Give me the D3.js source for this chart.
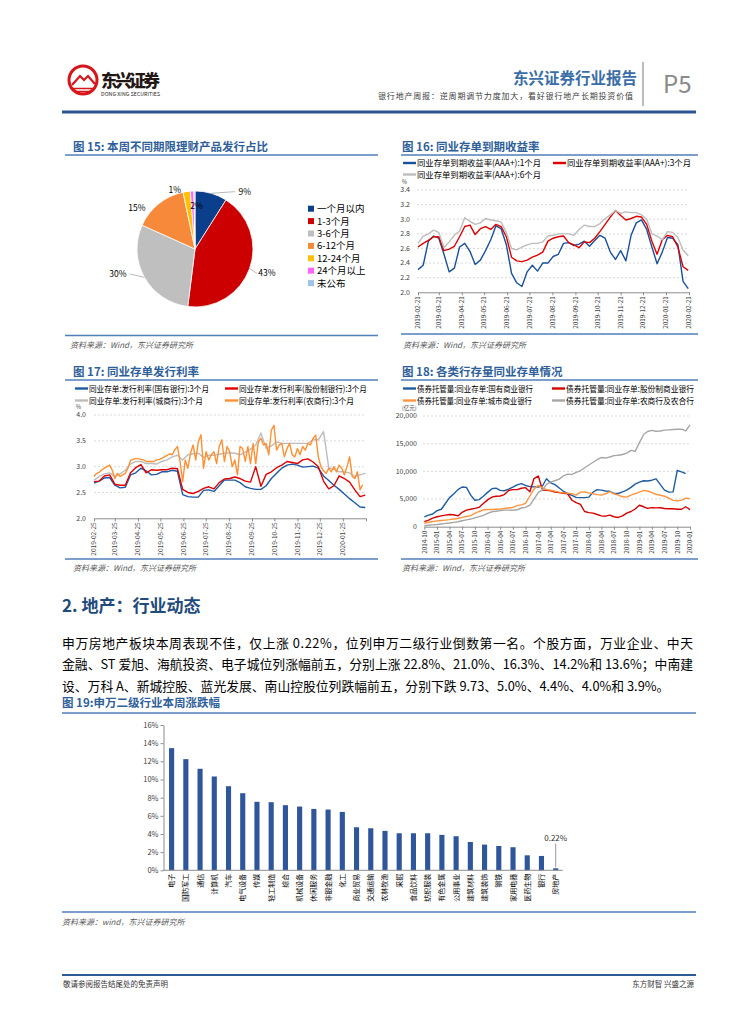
<!DOCTYPE html>
<html>
<head>
<meta charset="utf-8">
<script src="https://cdn.jsdelivr.net/npm/d3@7"></script>
<style>
  body { margin: 0; background: #fff; }
  svg text { font-family: 'Noto Sans CJK SC', 'Noto Sans', sans-serif; }
</style>
</head>
<body>
<svg id="page" width="755" height="1024"></svg>
<script>
// ---- fig 15: pie ----
var pieCats   = ["一个月以内", "1-3个月", "3-6个月", "6-12个月", "12-24个月", "24个月以上", "未公布"];
var pieVals   = [9.0, 43.1, 29.8, 15.0, 2.0, 1.0, 0.3];
var pieLabels = ["9%", "43%", "30%", "15%", "2%", "1%", ""];

// ---- fig 16: weekly from 2019-02-21 ----
var ncdNames = ["同业存单到期收益率(AAA+):1个月", "同业存单到期收益率(AAA+):3个月", "同业存单到期收益率(AAA+):6个月"];
var ncd1m = [2.31,2.37,2.70,2.77,2.74,2.52,2.28,2.33,2.62,2.67,
             2.56,2.38,2.44,2.57,2.72,2.91,2.87,2.65,2.26,2.13,
             2.08,2.28,2.37,2.29,2.40,2.40,2.49,2.52,2.67,2.68,
             2.64,2.66,2.70,2.63,2.71,2.78,2.74,2.55,2.45,2.57,
             2.43,2.78,2.95,2.99,2.86,2.62,2.39,2.55,2.75,2.74,
             2.65,2.15,2.05];
var ncd3m = [2.62,2.67,2.71,2.76,2.76,2.57,2.59,2.63,2.76,2.90,
             2.92,2.79,2.87,2.90,2.86,2.93,2.90,2.76,2.48,2.43,
             2.42,2.44,2.48,2.51,2.55,2.70,2.74,2.76,2.77,2.68,
             2.65,2.61,2.69,2.68,2.74,2.83,2.93,3.03,3.12,3.05,
             2.99,3.01,3.04,3.03,2.93,2.70,2.52,2.72,2.78,2.76,
             2.62,2.35,2.30];
var ncd6m = [2.67,2.77,2.80,2.85,2.82,2.61,2.69,2.78,2.84,3.02,
             2.97,2.93,2.95,3.01,2.99,2.98,2.96,2.82,2.60,2.58,
             2.62,2.65,2.67,2.67,2.69,2.77,2.78,2.80,2.80,2.80,
             2.78,2.86,2.92,2.90,2.90,2.94,3.01,3.06,3.12,3.08,
             3.10,3.09,3.09,3.06,3.00,2.80,2.77,2.72,2.83,2.82,
             2.75,2.58,2.50];

// ---- fig 17: weekly from 2019-02-25 (农商行 every half week) ----
var issueNames = ["同业存单:发行利率(国有银行):3个月", "同业存单:发行利率(股份制银行):3个月",
                  "同业存单:发行利率(城商行):3个月", "同业存单:发行利率(农商行):3个月"];
var issueBig = [2.68,2.72,2.78,2.79,2.64,2.59,2.60,2.84,2.88,2.97,
                2.92,2.84,2.85,2.90,2.90,2.93,2.91,2.46,2.42,2.41,
                2.41,2.54,2.55,2.52,2.63,2.74,2.74,2.74,2.69,2.61,
                2.58,2.56,2.56,2.63,2.77,2.87,2.97,3.03,3.05,3.03,
                2.99,3.00,3.01,2.97,2.82,2.73,2.64,2.56,2.47,2.38,
                2.30,2.22,2.21];
var issueJoint = [2.71,2.72,2.82,2.84,2.66,2.64,2.64,2.88,2.98,3.04,
                  2.88,2.94,2.93,2.94,2.94,2.97,2.96,2.56,2.50,2.48,
                  2.52,2.58,2.61,2.57,2.69,2.76,2.77,2.80,2.77,2.72,
                  2.70,3.00,2.62,2.85,2.90,2.98,3.03,3.10,3.08,3.06,
                  3.13,3.15,3.09,3.00,2.72,2.57,2.63,2.82,2.77,2.70,
                  2.55,2.42,2.45];
var issueCity = [2.74,2.81,2.86,2.88,2.81,2.86,2.93,3.05,3.10,3.10,
                 3.06,3.06,3.05,3.10,3.13,3.19,3.22,3.13,3.23,3.25,
                 3.26,3.18,3.22,3.22,3.24,3.26,3.27,3.26,3.23,3.28,
                 3.34,3.42,3.65,3.35,3.40,3.48,3.45,3.45,3.45,3.45,
                 3.45,3.45,3.52,3.52,3.68,2.98,2.95,2.90,2.90,2.88,
                 2.81,2.84,2.87];
var issueRural = [2.81,2.87,2.89,2.94,2.97,3.00,3.03,2.93,2.77,2.87,
                  2.81,2.84,2.87,2.97,3.12,3.14,3.16,3.15,3.14,3.13,
                  3.10,3.10,3.10,3.10,3.13,3.14,3.16,3.19,3.22,3.25,
                  3.23,3.33,3.39,3.10,2.71,3.13,2.97,3.26,3.42,3.13,
                  3.48,3.62,2.97,3.29,3.13,3.23,3.29,3.06,3.39,3.52,
                  3.10,3.39,3.29,3.00,3.13,2.84,3.39,3.35,3.10,3.39,
                  3.06,3.45,3.06,3.48,3.55,3.42,3.45,3.23,3.71,3.80,
                  3.32,3.42,3.45,3.19,3.35,3.45,3.23,3.19,3.35,3.23,
                  3.39,3.32,3.45,3.42,3.55,3.61,3.19,3.00,2.92,2.87,
                  2.97,2.90,3.00,2.90,3.03,2.97,2.84,3.00,3.19,2.81,
                  2.77,2.90,2.55,2.65];

// ---- fig 18: monthly from 2014-10, 亿元 ----
var holdNames = ["债券托管量:同业存单:国有商业银行", "债券托管量:同业存单:股份制商业银行",
                 "债券托管量:同业存单:城市商业银行", "债券托管量:同业存单:农商行及农合行"];
var holdBig = [1790,2090,2300,2900,3150,4150,5250,5900,6700,7170,
               7100,5700,4780,4900,5500,6200,6870,6950,6570,6500,
               6800,7150,7550,7770,7450,7250,7200,7170,7400,8660,
               7900,7600,7000,6400,6000,5650,5300,5260,5260,5350,
               6270,6700,6600,6450,6400,6000,6000,6300,6600,7100,
               7700,8050,8300,8250,8400,8650,7600,6600,6250,6300,
               10150,9900,9600];
var holdJoint = [900,1200,1550,1800,1950,2090,2200,2150,1950,2600,
                 2990,3150,3300,3500,4180,4850,5350,5500,5550,5800,
                 6550,6690,6700,6950,7050,6300,8700,9150,6600,6570,
                 6500,6270,6150,6050,5950,4780,4350,4050,2750,2550,
                 2450,2200,1950,1900,2100,1800,1670,1950,2450,2750,
                 3200,3880,3600,3300,3450,3400,3420,3300,3250,3250,
                 3150,3150,3600,3100];
var holdCity = [600,800,950,1050,1130,1190,1270,1380,1490,1680,
                1850,2000,2400,2750,3050,3100,3100,3150,3200,3290,
                3380,3480,3800,3950,4200,5550,6800,7470,7000,6700,
                6580,6400,6250,6120,6050,5970,5700,6250,6270,6100,
                5950,5800,5700,5950,6330,5950,5700,5400,5350,5700,
                5970,6250,6550,6450,6150,5860,5680,5500,5150,4750,
                4660,4800,5150,5080];
var holdRural = [180,250,330,400,500,600,680,780,900,1080,
                 1240,1380,1600,1820,2050,2400,2700,2800,2900,2990,
                 3000,2980,3050,3380,3500,3880,5000,6200,6650,7650,
                 8100,8300,8600,9200,9500,9450,9800,10100,10650,11150,
                 11650,12100,12500,12400,12600,12840,12900,13050,13300,13800,
                 13600,15200,16700,17200,17400,17250,17300,17450,17500,17560,
                 17600,17620,17300,18400];

// ---- fig 19: 申万行业本周涨跌幅 (%) ----
var industries = ["电子","国防军工","通信","计算机","汽车","电气设备","传媒","轻工制造","综合","机械设备",
                  "休闲服务","非银金融","化工","商业贸易","交通运输","农林牧渔","采掘","食品饮料","纺织服装","有色金属",
                  "公用事业","建筑材料","建筑装饰","钢铁","家用电器","医药生物","银行","房地产"];
var weekChange = [13.45,12.24,11.18,10.33,9.26,8.49,7.54,7.50,7.17,7.02,
                  6.76,6.69,6.43,4.74,4.63,4.34,4.08,4.08,4.08,3.90,
                  3.75,3.12,2.83,2.68,2.54,1.65,1.58,0.22];

var bodyLines = [
  "申万房地产板块本周表现不佳，仅上涨 0.22%，位列申万二级行业倒数第一名。个股方面，万业企业、中天",
  "金融、ST 爱旭、海航投资、电子城位列涨幅前五，分别上涨 22.8%、21.0%、16.3%、14.2%和 13.6%；中南建",
  "设、万科 A、新城控股、蓝光发展、南山控股位列跌幅前五，分别下跌 9.73、5.0%、4.4%、4.0%和 3.9%。"
];

var LAT = "'Liberation Sans', Arial, sans-serif";
var TITLE_BLUE = "#2f5f9a", RULE_BLUE = "#4f7fb8", AXIS = "#8c8c8c", TICK_TXT = "#404040";
var svg = d3.select("#page");
var parse = d3.timeParse("%Y-%m-%d");

// ---------- page header / footer ----------
var head = svg.append("g");
head.append("circle").attr("cx", 83).attr("cy", 80).attr("r", 14)
    .attr("fill", "none").attr("stroke", "#d7151b").attr("stroke-width", 3);
head.append("path").attr("d", "M72,85 L80,76 L84,80 L88,76 L95,84")
    .attr("fill", "none").attr("stroke", "#d7151b").attr("stroke-width", 2.2);
head.append("path").attr("d", "M73,88.5 L93,88.5 M76,91.5 L90,91.5")
    .attr("stroke", "#d7151b").attr("stroke-width", 1.3);
head.append("text").attr("x", 101).attr("y", 87).attr("font-size", 16.5).attr("font-weight", 900)
    .attr("fill", "#231815").attr("textLength", 59).text("东兴证券");
head.append("text").attr("x", 101).attr("y", 96).attr("font-size", 5.2).attr("font-family", LAT)
    .attr("fill", "#231815").attr("textLength", 59).text("DONG XING SECURITIES");
head.append("text").attr("x", 637).attr("y", 84).attr("text-anchor", "end").attr("font-size", 15.5)
    .attr("font-weight", 700).attr("fill", "#3b6ea8").text("东兴证券行业报告");
head.append("text").attr("x", 378).attr("y", 99).attr("font-size", 8).attr("fill", "#404040")
    .attr("textLength", 255).text("银行地产周报：逆周期调节力度加大，看好银行地产长期投资价值");
head.append("line").attr("x1", 643).attr("x2", 643).attr("y1", 62).attr("y2", 106)
    .attr("stroke", "#a6a6a6").attr("stroke-width", 1.5);
head.append("text").attr("x", 663).attr("y", 93).attr("font-size", 24).attr("font-family", LAT)
    .attr("fill", "#8a8a8a").text("P5");
head.append("line").attr("x1", 62).attr("x2", 696).attr("y1", 112).attr("y2", 112)
    .attr("stroke", "#2a5592").attr("stroke-width", 3);

svg.append("line").attr("x1", 62).attr("x2", 696).attr("y1", 975).attr("y2", 975)
    .attr("stroke", "#2d5b94").attr("stroke-width", 2);
svg.append("text").attr("x", 63).attr("y", 987).attr("font-size", 7.5).attr("fill", "#333")
    .text("敬请参阅报告结尾处的免责声明");
svg.append("text").attr("x", 694).attr("y", 987).attr("font-size", 7.5).attr("fill", "#333")
    .attr("text-anchor", "end").text("东方财智 兴盛之源");

// ---------- helpers ----------
function figTitle(x, y, s, lx1, lx2, ly) {
    svg.append("text").attr("x", x).attr("y", y).attr("font-size", 11.5).attr("font-weight", 700)
        .attr("fill", TITLE_BLUE).text(s);
    svg.append("line").attr("x1", lx1).attr("x2", lx2).attr("y1", ly).attr("y2", ly)
        .attr("stroke", RULE_BLUE).attr("stroke-width", 1.5);
}
function figSource(x, y, s, lx1, lx2, ly) {
    svg.append("line").attr("x1", lx1).attr("x2", lx2).attr("y1", ly).attr("y2", ly)
        .attr("stroke", RULE_BLUE).attr("stroke-width", 1.5);
    svg.append("text").attr("x", x).attr("y", y).attr("font-size", 8).attr("font-style", "italic")
        .attr("fill", "#595959").text(s);
}

function lineChart(c) {
    var g = svg.append("g");
    var x = d3.scaleTime().domain(c.xDomain).range([c.left, c.right]);
    var y = d3.scaleLinear().domain(c.yDomain).range([c.bottom, c.top]);

    g.selectAll("line.grid").data(c.yTicks.slice(1)).join("line").attr("class", "grid")
        .attr("x1", c.gridLeft).attr("x2", c.gridRight)
        .attr("y1", function (d) { return y(d); }).attr("y2", function (d) { return y(d); })
        .attr("stroke", "#d0d0d0").attr("stroke-width", 0.8).attr("stroke-dasharray", "2,2");

    g.selectAll("text.yl").data(c.yTicks).join("text").attr("class", "yl")
        .attr("x", c.yLabelX).attr("y", function (d) { return y(d) + 2.4; })
        .attr("text-anchor", "end").attr("font-size", 7).attr("font-family", LAT)
        .attr("fill", TICK_TXT).text(c.yFormat);
    g.append("text").attr("x", c.unitX).attr("y", c.unitY).attr("font-size", 5.5)
        .attr("fill", TICK_TXT).text(c.unit);

    var ax = g.append("g").attr("transform", "translate(0," + c.bottom + ")")
        .call(d3.axisBottom(x).tickValues(c.xTicks).tickSize(3).tickSizeOuter(0).tickFormat(""));
    ax.select(".domain").attr("stroke", AXIS);
    ax.selectAll(".tick line").attr("stroke", AXIS);

    g.selectAll("text.xl").data(c.xLabels).join("text").attr("class", "xl")
        .attr("transform", function (d) { return "translate(" + (x(d) + 2.3) + "," + (c.bottom + 4) + ") rotate(-90)"; })
        .attr("text-anchor", "end").attr("font-size", c.xFontSize).attr("font-family", LAT)
        .attr("fill", TICK_TXT).text(c.xFormat);

    c.series.forEach(function (s) {
        var line = d3.line()
            .x(function (d, i) { return x(s.dates[i]); })
            .y(function (d) { return y(d); });
        g.append("path").datum(s.values).attr("d", line).attr("fill", "none")
            .attr("stroke", s.color).attr("stroke-width", 1.4).attr("stroke-linejoin", "round");
    });

    // legend
    c.series.forEach(function (s, i) {
        var lx = c.legendX[i % 2], ly = c.legendY[Math.floor(i / 2)];
        if (c.legendRowOf) { lx = c.legendX[c.legendRowOf[i][0]]; ly = c.legendY[c.legendRowOf[i][1]]; }
        g.append("line").attr("x1", lx).attr("x2", lx + 13).attr("y1", ly).attr("y2", ly)
            .attr("stroke", s.color).attr("stroke-width", 2.4);
        g.append("text").attr("x", lx + 14).attr("y", ly + 3).attr("font-size", 8.5).attr("fill", "#000")
            .attr("textLength", s.legendLen).attr("lengthAdjust", "spacingAndGlyphs").text(s.name);
    });
}

function stepDates(start, n, hours) {
    return d3.range(n).map(function (i) { return d3.timeHour.offset(start, i * hours); });
}

// ---------- fig 15 ----------
figTitle(73, 151, "图 15: 本周不同期限理财产品发行占比", 65, 378, 155);
var pieColors = ["#0b3f8c", "#cc0000", "#bfbfbf", "#f7893b", "#ffc000", "#ff66ff", "#9dc3e6"];
var pcx = 195, pcy = 249, pr = 58;
var arcs = d3.pie().sort(null).value(function (d) { return d; })(pieVals);
var arc = d3.arc().innerRadius(0).outerRadius(pr);
var pg = svg.append("g").attr("transform", "translate(" + pcx + "," + pcy + ")");
pg.selectAll("path").data(arcs).join("path").attr("d", arc)
    .attr("fill", function (d, i) { return pieColors[i]; })
    .attr("stroke", "#fff").attr("stroke-width", 0.8);
// label placement: [angle deg, distance]
var pieLabelAt = [[41, 76], [108.7, 76], [252, 81], [305, 71], [2, 43], [341, 62], [0, 0]];
function polar(a, r) { var t = a * Math.PI / 180; return [r * Math.sin(t), -r * Math.cos(t)]; }
arcs.forEach(function (d, i) {
    if (!pieLabels[i]) return;
    var p = polar(pieLabelAt[i][0], pieLabelAt[i][1]);
    pg.append("text").attr("x", p[0]).attr("y", p[1] + 3).attr("text-anchor", "middle")
        .attr("font-size", 8.5).attr("font-family", LAT).attr("fill", "#000").text(pieLabels[i]);
    if (i < 3) {
        var mid = (d.startAngle + d.endAngle) / 2 * 180 / Math.PI;
        var a = polar(mid, pr);
        var ex = p[0] + (p[0] > 0 ? -10 : 12);
        pg.append("line").attr("x1", a[0]).attr("y1", a[1]).attr("x2", ex).attr("y2", p[1])
            .attr("stroke", "#a6a6a6").attr("stroke-width", 0.8);
    }
});
var lg = svg.append("g");
pieCats.forEach(function (name, i) {
    var yy = 208.7 + i * 12.4;
    lg.append("rect").attr("x", 308).attr("y", yy - 3).attr("width", 6).attr("height", 6).attr("fill", pieColors[i]);
    lg.append("text").attr("x", 317).attr("y", yy + 3.4).attr("font-size", 9.5).attr("fill", "#000").text(name);
});
figSource(70, 348, "资料来源：Wind，东兴证券研究所", 65, 378, 335.5);

// ---------- fig 16 ----------
figTitle(402, 151, "图 16: 同业存单到期收益率", 401, 698, 155);
var d16 = stepDates(parse("2019-02-21"), ncd1m.length, 24 * 7);
var m16 = d3.range(13).map(function (k) { return d3.timeMonth.offset(parse("2019-02-21"), k); });
lineChart({
    xDomain: [parse("2019-02-21"), parse("2020-02-21")], left: 418, right: 689,
    yDomain: [2.0, 3.4], top: 190, bottom: 292.3, yTicks: [2.0, 2.2, 2.4, 2.6, 2.8, 3.0, 3.2, 3.4],
    yFormat: d3.format(".1f"), yLabelX: 410, gridLeft: 417, gridRight: 688,
    unit: "%", unitX: 402, unitY: 184,
    xTicks: m16, xLabels: m16, xFormat: d3.timeFormat("%Y-%m-%d"), xFontSize: 6.3,
    legendX: [403, 553], legendY: [163, 174.5],
    series: [
        { name: ncdNames[0], dates: d16, values: ncd1m, color: "#1a519b", legendLen: 124 },
        { name: ncdNames[1], dates: d16, values: ncd3m, color: "#e00000", legendLen: 124 },
        { name: ncdNames[2], dates: d16, values: ncd6m, color: "#bdbdbd", legendLen: 124 }
    ]
});
figSource(403, 348, "资料来源：Wind，东兴证券研究所", 401, 698, 334);

// ---------- fig 17 ----------
figTitle(73, 376, "图 17: 同业存单发行利率", 65, 378, 380);
var d17 = stepDates(parse("2019-02-25"), issueBig.length, 24 * 7);
var d17r = stepDates(parse("2019-02-25"), issueRural.length, 84);
var m17 = d3.range(13).map(function (k) { return d3.timeMonth.offset(parse("2019-02-25"), k); });
lineChart({
    xDomain: [parse("2019-02-25"), parse("2020-02-25")], left: 94, right: 366,
    yDomain: [2.0, 4.0], top: 415, bottom: 518.3, yTicks: [2.0, 2.5, 3.0, 3.5, 4.0],
    yFormat: d3.format(".1f"), yLabelX: 86, gridLeft: 94, gridRight: 366,
    unit: "%", unitX: 76, unitY: 409,
    xTicks: m17, xLabels: m17.slice(0, 12), xFormat: d3.timeFormat("%Y-%m-%d"), xFontSize: 6.5,
    legendX: [75, 225], legendY: [388.5, 400.5],
    series: [
        { name: issueNames[0], dates: d17, values: issueBig, color: "#1f5aa6", legendLen: 120 },
        { name: issueNames[1], dates: d17, values: issueJoint, color: "#e00000", legendLen: 128 },
        { name: issueNames[2], dates: d17, values: issueCity, color: "#bdbdbd", legendLen: 114 },
        { name: issueNames[3], dates: d17r, values: issueRural, color: "#ff9033", legendLen: 115 }
    ]
});
figSource(73, 571, "资料来源：Wind，东兴证券研究所", 65, 378, 559);

// ---------- fig 18 ----------
figTitle(402, 376, "图 18: 各类行存量同业存单情况", 401, 698, 380);
var m18start = parse("2014-10-01");
function monthsFrom(n) { return d3.range(n).map(function (i) { return d3.timeMonth.offset(m18start, i); }); }
var q18 = d3.range(0, 64, 3).map(function (i) { return d3.timeMonth.offset(m18start, i); });
lineChart({
    xDomain: [m18start, parse("2020-01-01")], left: 424.3, right: 690,
    yDomain: [0, 20000], top: 416, bottom: 526.7, yTicks: [0, 5000, 10000, 15000, 20000],
    yFormat: d3.format(","), yLabelX: 417, gridLeft: 423, gridRight: 691,
    unit: "(亿元)", unitX: 402, unitY: 410,
    xTicks: q18, xLabels: q18, xFormat: d3.timeFormat("%Y-%m"), xFontSize: 6.3,
    legendX: [403, 552], legendY: [388.5, 400.5],
    legendRowOf: [[0, 0], [1, 0], [0, 1], [1, 1]],
    series: [
        { name: holdNames[0], dates: monthsFrom(holdBig.length), values: holdBig, color: "#1f5ca0", legendLen: 116 },
        { name: holdNames[1], dates: monthsFrom(holdJoint.length), values: holdJoint, color: "#d40000", legendLen: 128 },
        { name: holdNames[2], dates: monthsFrom(holdCity.length), values: holdCity, color: "#ff9440", legendLen: 115 },
        { name: holdNames[3], dates: monthsFrom(holdRural.length), values: holdRural, color: "#a6a6a6", legendLen: 128 }
    ]
});
figSource(402, 571, "资料来源：Wind，东兴证券研究所", 401, 698, 559);

// ---------- section 2 text ----------
svg.append("text").attr("x", 62).attr("y", 612).attr("font-size", 17).attr("font-weight", 700)
    .attr("fill", "#1f4a7d").text("2. 地产：行业动态");
svg.selectAll("text.body").data(bodyLines).join("text").attr("class", "body")
    .attr("x", 62).attr("y", function (d, i) { return 647.5 + i * 21.7; })
    .attr("font-size", 12.8).attr("fill", "#000")
    .each(function (d, i) {
        if (i < 2) d3.select(this).attr("textLength", 631).attr("lengthAdjust", "spacing");
    })
    .text(function (d) { return d; });

// ---------- fig 19 ----------
figTitle(62, 707, "图 19:申万二级行业本周涨跌幅", 62, 696, 713);
var bg = svg.append("g");
var xb = d3.scaleBand().domain(industries).range([164.5, 562.8]).paddingInner(0.64).paddingOuter(0.32);
var yb = d3.scaleLinear().domain([0, 16]).range([870.3, 725]);
var yAx = bg.append("g").attr("transform", "translate(163.5,0)")
    .call(d3.axisLeft(yb).tickValues(d3.range(0, 17, 2)).tickSize(3).tickSizeOuter(0)
        .tickFormat(function (d) { return d + "%"; }));
yAx.select(".domain").attr("stroke", AXIS);
yAx.selectAll(".tick line").attr("stroke", AXIS);
yAx.selectAll(".tick text").attr("font-family", "'Liberation Serif', serif").attr("font-size", 7.5)
    .attr("fill", TICK_TXT).attr("x", -5);
bg.selectAll("rect").data(weekChange).join("rect")
    .attr("x", function (d, i) { return xb(industries[i]); })
    .attr("width", xb.bandwidth())
    .attr("y", function (d) { return yb(d); })
    .attr("height", function (d) { return yb(0) - yb(d); })
    .attr("fill", "#2f559a");
bg.append("line").attr("x1", 163.5).attr("x2", 562.8).attr("y1", yb(0)).attr("y2", yb(0))
    .attr("stroke", AXIS).attr("stroke-width", 1);
bg.selectAll("text.cat").data(industries).join("text").attr("class", "cat")
    .attr("transform", function (d) { return "translate(" + (xb(d) + xb.bandwidth() / 2 + 2.5) + "," + (yb(0) + 3.5) + ") rotate(-90)"; })
    .attr("text-anchor", "end").attr("font-size", 7).attr("fill", "#000").text(function (d) { return d; });
var lastCat = industries[industries.length - 1];
var lcx = xb(lastCat) + xb.bandwidth() / 2;
bg.append("line").attr("x1", lcx).attr("x2", lcx).attr("y1", 843.5).attr("y2", yb(weekChange[weekChange.length - 1]) - 1)
    .attr("stroke", "#7f7f7f").attr("stroke-width", 0.8);
bg.append("text").attr("x", lcx).attr("y", 841).attr("text-anchor", "middle").attr("font-size", 8)
    .attr("font-family", LAT).attr("fill", "#333").text(d3.format(".2f")(weekChange[weekChange.length - 1]) + "%");
figSource(62, 925, "资料来源：wind，东兴证券研究所", 62, 696, 912);
</script>
</body>
</html>
